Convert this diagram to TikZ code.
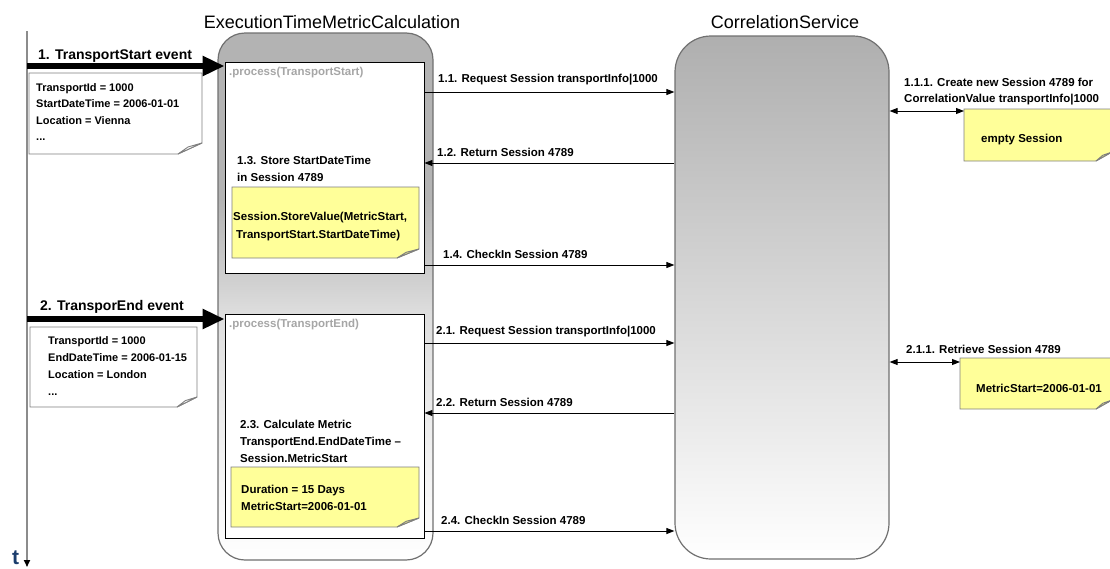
\documentclass[tikz,border=0pt]{standalone}
\usepackage{fontspec}
\setmainfont{Liberation Sans}
\usetikzlibrary{arrows.meta,calc}

\definecolor{boxgray}{HTML}{B3B3B3}
\definecolor{shadeB}{HTML}{CDCDCD}
\definecolor{shadeC}{HTML}{DEDEDE}
\definecolor{csgray}{HTML}{AFAFAF}
\definecolor{edgegray}{HTML}{707070}
\definecolor{notegray}{HTML}{7F7F7F}
\definecolor{noteyellow}{HTML}{FFFF99}
\definecolor{foldyellow}{HTML}{E8E88C}
\definecolor{proclabel}{HTML}{A6A6A6}
\definecolor{linegray}{HTML}{8C8C8C}
\definecolor{tblue}{HTML}{1B3D6D}

% vertical fill of the calculation container: flat gray on top, fading out below
\pgfdeclareverticalshading{etmcshade}{100bp}{color(0bp)=(white); color(25bp)=(white);
  color(48.3bp)=(shadeC); color(52.2bp)=(shadeB); color(59.2bp)=(boxgray); color(100bp)=(boxgray)}

% folded-corner outline around an (empty) placeholder node
% #1 node, #2 fill, #3 fold fill, #4 fold width, #5 fold height
\newcommand{\foldnote}[5]{%
  \filldraw[notepath, fill=#2] (#1.north west) -- (#1.north east)
    -- ([yshift=#5]#1.south east) -- ([xshift=-#4]#1.south east)
    -- (#1.south west) -- cycle;
  \filldraw[notepath, fill=#3] ([yshift=#5]#1.south east)
    -- ([xshift={-0.58*#4}, yshift={0.64*#5}]#1.south east)
    -- ([xshift=-#4]#1.south east) -- cycle;}

\begin{document}
\begin{tikzpicture}[x=1pt, y=-1pt,
  container/.style={draw=edgegray, line width=1.2pt, inner sep=0pt},
  procbox/.style={draw=black, fill=white, line width=0.9pt, inner sep=0pt},
  notebase/.style={inner sep=0pt, outer sep=0pt},
  notepath/.style={draw=notegray, line width=0.9pt, line join=miter},
  title/.style={font=\fontsize{18}{20}\selectfont, anchor=base, inner sep=0pt},
  % multi-line texts are placed by the baseline of their last line
  lbl/.style={font=\bfseries\fontsize{11.5}{17}\selectfont, anchor=base west, inner sep=0pt, align=left},
  notetext/.style={font=\bfseries\fontsize{11}{16.8}\selectfont, anchor=base west, inner sep=0pt, align=left},
  evlbl/.style={font=\bfseries\fontsize{14}{16}\selectfont, anchor=base west, inner sep=0pt},
  proc/.style={font=\bfseries\fontsize{11.5}{14}\selectfont, text=proclabel, anchor=base west, inner sep=0pt},
  msg/.style={draw=black, line width=0.9pt, -{Triangle[length=8pt, width=6pt]}},
  dmsg/.style={draw=black, line width=0.9pt, {Triangle[length=8pt, width=6pt]}-{Triangle[length=8pt, width=6pt]}},
  event/.style={draw=black, line width=6pt, -{Triangle[length=22pt, width=19pt]}},
  timeline/.style={draw=linegray, line width=1.6pt, -{Triangle[length=7pt, width=6pt, color=black]}}]

\useasboundingbox (0,0) rectangle (1110,568);

% ---- the two participants ----
\node[container, rounded corners=27pt, shading=etmcshade,
      minimum width=215pt, minimum height=527pt] (etmc) at (325.5,296.5) {};
\node[container, rounded corners=36pt, top color=csgray, bottom color=white,
      minimum width=214pt, minimum height=523pt] (cs) at (782,297.5) {};
\node[title] (etmctitle) at (332,28) {ExecutionTimeMetricCalculation};
\node[title] (cstitle) at (785,28) {CorrelationService};

% ---- process blocks ----
\node[procbox, minimum width=199pt, minimum height=211pt] (p1) at (324.5,167.5) {};
\node[procbox, minimum width=199pt, minimum height=224pt] (p2) at (324.5,426) {};
\node[proc] (p1lbl) at (229,75) {.process(TransportStart)};
\node[proc] (p2lbl) at (229,327) {.process(TransportEnd)};

% ---- notes ----
\node[notebase, minimum width=173pt, minimum height=81pt] (n1) at (115.5,113.5) {};
\node[notebase, minimum width=167pt, minimum height=80pt] (n2) at (113.5,367) {};
\node[notebase, minimum width=187pt, minimum height=71pt] (y1) at (325.5,222.5) {};
\node[notebase, minimum width=188pt, minimum height=60pt] (y2) at (325,497) {};
\node[notebase, minimum width=148pt, minimum height=52pt] (es) at (1038,135) {};
\node[notebase, minimum width=152pt, minimum height=51pt] (ms) at (1036,383.5) {};
\foldnote{n1}{white}{white}{24pt}{11pt}
\foldnote{n2}{white}{white}{20pt}{10pt}
\foldnote{y1}{noteyellow}{foldyellow}{22pt}{9pt}
\foldnote{y2}{noteyellow}{foldyellow}{22pt}{9pt}
\foldnote{es}{noteyellow}{foldyellow}{16pt}{9pt}
\foldnote{ms}{noteyellow}{foldyellow}{16pt}{9pt}

\node[notetext, font=\bfseries\fontsize{11}{16.5}\selectfont] (n1txt) at (36,140.5) {TransportId = 1000\\StartDateTime = 2006-01-01\\Location = Vienna\\...};
\node[notetext] (n2txt) at (48,395) {TransportId = 1000\\EndDateTime = 2006-01-15\\Location = London\\...};
\node[lbl, font=\bfseries\fontsize{11.5}{18}\selectfont] (y1txt) at (233,238) {Session.StoreValue(MetricStart,\\\hspace*{3pt}TransportStart.StartDateTime)};
\node[lbl] (y2txt) at (241,510) {Duration = 15 Days\\MetricStart=2006-01-01};
\node[lbl] (estxt) at (981,142) {empty Session};
\node[lbl] (mstxt) at (976,392) {MetricStart=2006-01-01};

% ---- step descriptions inside the process blocks ----
\node[lbl] (s13) at (237,181) {1.3. Store StartDateTime\\in Session 4789};
\node[lbl] (s23) at (240,462) {2.3. Calculate Metric\\TransportEnd.EndDateTime --\\Session.MetricStart};

% ---- time axis and incoming events ----
\coordinate (tltop) at (27,31);
\coordinate (tlbot) at (27,567);
\draw[timeline] (tltop) -- (tlbot);
\node[font=\bfseries\fontsize{21}{22}\selectfont, text=tblue, anchor=base west, inner sep=0pt] (t) at (12,564) {t};

\coordinate (e1) at (0,66);
\coordinate (e2) at (0,319);
\draw[event] (tltop |- e1) -- (p1.west |- e1);
\draw[event] (tltop |- e2) -- (p2.west |- e2);
\node[evlbl] (e1lbl) at (38,59) {1. TransportStart event};
\node[evlbl] (e2lbl) at (40,310) {2. TransporEnd event};

% ---- messages between the participants ----
\coordinate (m11) at (0,92);
\coordinate (m12) at (0,163);
\coordinate (m14) at (0,265);
\coordinate (m21) at (0,343);
\coordinate (m22) at (0,413);
\coordinate (m24) at (0,531);
\draw[msg] (p1.east |- m11) -- (cs.west |- m11);
\draw[msg] (cs.west |- m12) -- (p1.east |- m12);
\draw[msg] (p1.east |- m14) -- (cs.west |- m14);
\draw[msg] (p2.east |- m21) -- (cs.west |- m21);
\draw[msg] (cs.west |- m22) -- (p2.east |- m22);
\draw[msg] (p2.east |- m24) -- (cs.west |- m24);
\node[lbl] (l11) at (438,82) {1.1. Request Session transportInfo|1000};
\node[lbl] (l12) at (437,156) {1.2. Return Session 4789};
\node[lbl] (l14) at (443,258) {1.4. CheckIn Session 4789};
\node[lbl] (l21) at (436,334) {2.1. Request Session transportInfo|1000};
\node[lbl] (l22) at (436,406) {2.2. Return Session 4789};
\node[lbl] (l24) at (441,524) {2.4. CheckIn Session 4789};

% ---- session store on the right ----
\coordinate (m111) at (0,111);
\coordinate (m211) at (0,362);
\draw[dmsg] (cs.east |- m111) -- (es.west |- m111);
\draw[dmsg] (cs.east |- m211) -- (ms.west |- m211);
\node[lbl, font=\bfseries\fontsize{11.5}{16}\selectfont] (l111) at (904,102) {1.1.1. Create new Session 4789 for\\CorrelationValue transportInfo|1000};
\node[lbl] (l211) at (906,353) {2.1.1. Retrieve Session 4789};

\end{tikzpicture}
\end{document}
